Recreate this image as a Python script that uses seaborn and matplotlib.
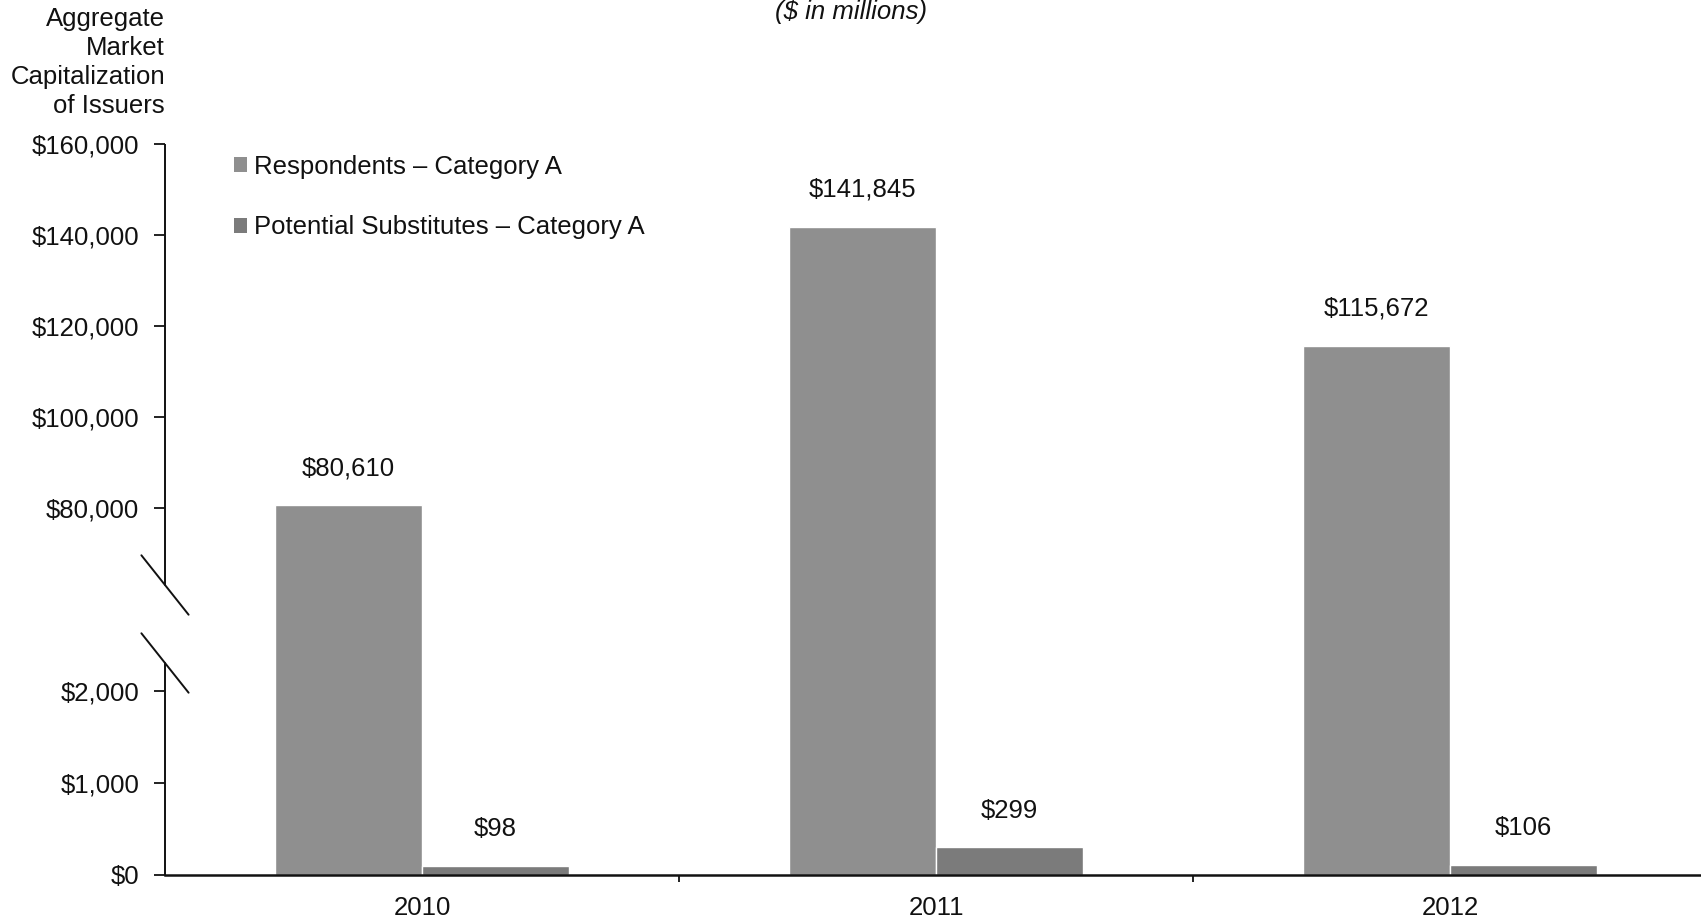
import numpy as np
import pandas as pd
import matplotlib
matplotlib.use("Agg")
import matplotlib.pyplot as plt
from matplotlib.patches import Patch
from matplotlib.ticker import FixedLocator, FuncFormatter
import seaborn as sns

# ---- data ($ in millions) ----
years = ["2010", "2011", "2012"]
respondents = [80610, 141845, 115672]
substitutes = [98, 299, 106]
series_names = ["Respondents \u2013 Category A",
                "Potential Substitutes \u2013 Category A"]
y_ticks = [0, 1000, 2000, 80000, 100000, 120000, 140000, 160000]

df = pd.DataFrame({
    "Year": years * 2,
    "Value": respondents + substitutes,
    "Series": [series_names[0]] * len(years) + [series_names[1]] * len(years),
})

sns.set_theme(style="white")
plt.rcParams["font.family"] = ["Liberation Sans", "DejaVu Sans"]
plt.rcParams["text.color"] = "#111111"
plt.rcParams["xtick.color"] = "#111111"
plt.rcParams["ytick.color"] = "#111111"

FS = 18.5
W, H = 1701, 919
fig = plt.figure(figsize=(W / 100, H / 100), dpi=100)
ax = fig.add_axes([165 / W, 44 / H, 1536 / W, 731 / H])

colors = ["#8f8f8f", "#7b7b7b"]
sns.barplot(data=df, x="Year", y="Value", hue="Series", palette=colors,
            width=0.572, gap=0, saturation=1, errorbar=None,
            legend=False, ax=ax)

# ---- broken value axis: piecewise-linear mapping value -> height ----
brk_v = [0, 2304, 63077, 160000, 400000]
brk_h = [0, 212, 290, 731, 731 + 240000 * 0.00455]


def fwd(v):
    return np.interp(v, brk_v, brk_h)


def inv(h):
    return np.interp(h, brk_h, brk_v)


ax.set_yscale("function", functions=(fwd, inv))
ax.set_ylim(0, 160000)
ax.set_xlim(-0.5, 2.488)

ax.yaxis.set_major_locator(FixedLocator(y_ticks))
ax.yaxis.set_major_formatter(FuncFormatter(lambda v, p: f"${v:,.0f}"))
ax.tick_params(axis="y", which="major", left=True, direction="out",
               length=8, width=1.3, pad=10.5, labelsize=FS, colors="#111111")
ax.set_xticks(range(len(years)))
ax.set_xticklabels(years)
ax.tick_params(axis="x", which="major", bottom=True, length=0, pad=15,
               labelsize=FS)
ax.set_xticks([0.5, 1.5], minor=True)
ax.tick_params(axis="x", which="minor", bottom=True, direction="out",
               length=5, width=1.3, color="#111111")
ax.set_xlabel("")
ax.set_ylabel("")

for side in ("top", "right", "left"):
    ax.spines[side].set_visible(False)
ax.spines["bottom"].set_color("#111111")
ax.spines["bottom"].set_linewidth(1.8)

# value axis drawn in two pieces with break marks
ytrans = ax.get_yaxis_transform()
for lo, hi in [(0, brk_v[1]), (brk_v[2], y_ticks[-1])]:
    ax.plot([0, 0], [lo, hi], transform=ytrans, color="#111111", lw=1.4,
            clip_on=False, solid_capstyle="butt")
for v in (brk_v[1], brk_v[2]):
    for dx, dy in [(-17, 21.4), (17, -21.4)]:
        ax.annotate("", xy=(0, v), xycoords=ytrans, xytext=(dx, dy),
                    textcoords="offset points", annotation_clip=False,
                    arrowprops=dict(arrowstyle="-", lw=1.4, color="#111111",
                                    shrinkA=0, shrinkB=0))

# value labels above bars
for container, vals in zip(ax.containers, [respondents, substitutes]):
    for bar, val in zip(container, vals):
        ax.annotate(f"${val:,}",
                    xy=(bar.get_x() + bar.get_width() / 2, bar.get_height()),
                    xytext=(0, 21.5), textcoords="offset points",
                    ha="center", va="baseline", fontsize=FS)

handles = [Patch(facecolor=c, edgecolor="none") for c in colors]
fig.legend(handles, series_names, loc="upper left",
           bbox_to_anchor=(234 / W, 1 - 155 / H), frameon=False, fontsize=FS,
           handlelength=0.52, handleheight=0.52, handletextpad=0.25,
           labelspacing=1.42, borderpad=0, borderaxespad=0)

fig.text(165 / W, 1 - 7 / H, "Aggregate\nMarket\nCapitalization\nof Issuers",
         ha="right", va="top", fontsize=FS, linespacing=1.27,
         multialignment="right")
fig.text(851 / W, 1 - 19 / H, "($ in millions)", ha="center", va="baseline",
         fontsize=FS, style="italic")

fig.savefig("out.png", dpi=100)
